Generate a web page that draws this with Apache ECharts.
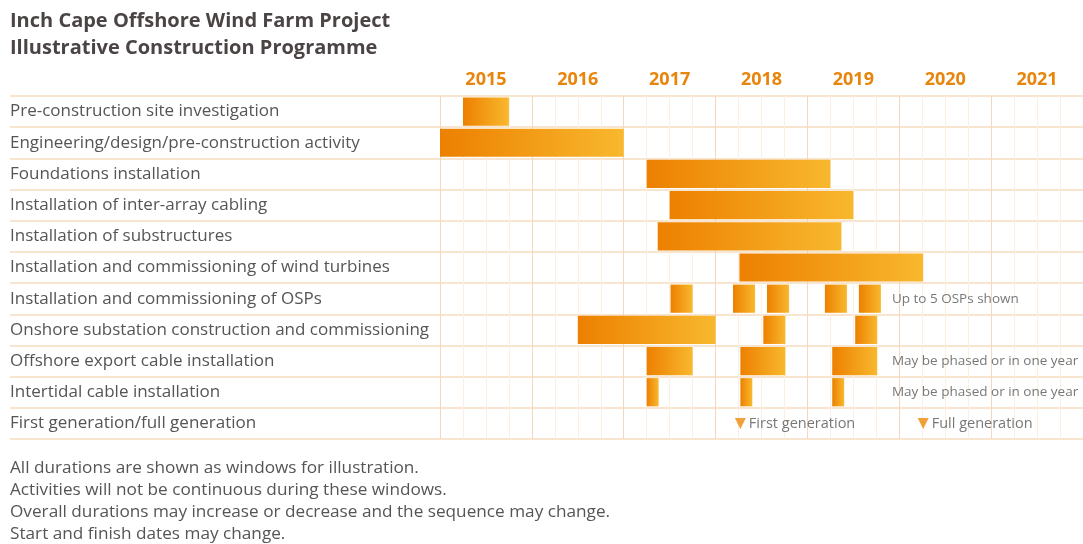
<!DOCTYPE html>
<html>
<head>
<meta charset="utf-8">
<script src="https://cdn.jsdelivr.net/npm/echarts@6/dist/echarts.min.js"></script>
<style>html,body{margin:0;padding:0;background:#fff;}#c{width:1083px;height:544px;}</style>
</head>
<body>
<div id="c"></div>
<script>
// ---- data ----
const activities = [
  'Pre-construction site investigation',
  'Engineering/design/pre-construction activity',
  'Foundations installation',
  'Installation of inter-array cabling',
  'Installation of substructures',
  'Installation and commissioning of wind turbines',
  'Installation and commissioning of OSPs',
  'Onshore substation construction and commissioning',
  'Offshore export cable installation',
  'Intertidal cable installation',
  'First generation/full generation'
];
const years = ['2015', '2016', '2017', '2018', '2019', '2020', '2021'];
// windows: activity index, start (fractional year), end (fractional year)
const windowRow   = [0,       1,      2,       3,      4,       5,       6,       6,       6,       6,       6,       7,      7,      7,       8,       8,       8,       9,       9,       9];
const windowStart = [2015.25, 2015.0, 2017.25, 2017.5, 2017.37, 2018.26, 2017.51, 2018.19, 2018.56, 2019.19, 2019.56, 2016.5, 2018.52, 2019.52, 2017.25, 2018.27, 2019.27, 2017.25, 2018.27, 2019.27];
const windowEnd   = [2015.75, 2017.0, 2019.25, 2019.5, 2019.37, 2020.26, 2017.75, 2018.43, 2018.80, 2019.43, 2019.80, 2018.0, 2018.76, 2019.76, 2017.75, 2018.76, 2019.76, 2017.38, 2018.40, 2019.40];
const milestoneYear  = [2018.27, 2020.26];
const milestoneLabel = ['First generation', 'Full generation'];
const noteRow  = [6, 8, 9];
const noteYear = [2019.92, 2019.92, 2019.92];
const noteText = ['Up to 5 OSPs shown', 'May be phased or in one year', 'May be phased or in one year'];
const footnotes = [
  'All durations are shown as windows for illustration.',
  'Activities will not be continuous during these windows.',
  'Overall durations may increase or decrease and the sequence may change.',
  'Start and finish dates may change.'
];

// ---- chart ----
const FONT = 'Open Sans';
const lineCol = '#f6dcc0';
const chart = echarts.init(document.getElementById('c'));

const bars = windowRow.map((r, i) => [windowStart[i], windowEnd[i], r]);

chart.setOption({
  animation: false,
  backgroundColor: '#ffffff',
  title: [
    {
      text: 'Inch Cape Offshore Wind Farm Project\nIllustrative Construction Programme',
      left: 5, top: 3,
      textStyle: { fontFamily: FONT, fontSize: 20, fontWeight: 'bold', color: '#4b4444', lineHeight: 27 }
    },
    {
      text: footnotes.join('\n'),
      left: 5, top: 452,
      textStyle: { fontFamily: FONT, fontSize: 17.2, fontWeight: 'normal', color: '#555555', lineHeight: 22 }
    }
  ],
  grid: [
    { left: 10, right: 0, top: 96, bottom: 105 },
    { left: 440, right: 0, top: 96, bottom: 105 }
  ],
  xAxis: [
    { gridIndex: 0, type: 'value', min: 0, max: 1, show: false },
    {
      gridIndex: 1, type: 'value', min: 2015, max: 2022, interval: 1,
      axisLabel: { show: false }, axisLine: { show: false }, axisTick: { show: false },
      splitLine: { show: true, lineStyle: { color: '#f5d8bb', width: 1 } },
      minorTick: { show: false, splitNumber: 4 },
      minorSplitLine: { show: true, lineStyle: { color: '#fcefe2', width: 1 } }
    },
    {
      gridIndex: 1, type: 'category', data: years, position: 'top', boundaryGap: true,
      axisLine: { show: false }, axisTick: { show: false },
      axisLabel: { margin: 7, fontFamily: FONT, fontSize: 18, fontWeight: 'bold', color: '#e8850c' }
    }
  ],
  yAxis: [
    {
      gridIndex: 0, type: 'category', data: activities, inverse: true,
      axisLine: { show: false }, axisTick: { show: false },
      axisLabel: { inside: true, margin: 0, fontFamily: FONT, fontSize: 17, color: '#555555' },
      splitLine: { show: true, lineStyle: { color: lineCol, width: 1.5 } }
    },
    {
      gridIndex: 1, type: 'category', data: activities, inverse: true, show: false
    }
  ],
  series: [
    {
      type: 'custom',
      xAxisIndex: 1, yAxisIndex: 1,
      data: bars,
      encode: { x: [0, 1], y: 2 },
      renderItem: function (params, api) {
        const s = api.coord([api.value(0), api.value(2)]);
        const e = api.coord([api.value(1), api.value(2)]);
        const h = api.size([0, 1])[1] - 3;
        return {
          type: 'rect',
          shape: { x: s[0], y: s[1] - h / 2, width: e[0] - s[0], height: h },
          style: {
            fill: new echarts.graphic.LinearGradient(0, 0, 1, 0, [
              { offset: 0, color: '#ed8000' },
              { offset: 1, color: '#f8b82e' }
            ])
          }
        };
      }
    },
    {
      type: 'scatter',
      xAxisIndex: 1, yAxisIndex: 1,
      symbol: 'triangle', symbolRotate: 180, symbolSize: [11, 11],
      itemStyle: { color: '#ee8a08' },
      data: milestoneYear.map((x, i) => ({ value: [x, 10], label: { formatter: milestoneLabel[i] } })),
      label: { show: true, position: 'right', distance: 3, fontFamily: FONT, fontSize: 14.5, color: '#555555' }
    },
    {
      type: 'scatter',
      xAxisIndex: 1, yAxisIndex: 1,
      symbolSize: 0,
      data: noteRow.map((r, i) => ({ value: [noteYear[i], r], label: { formatter: noteText[i] } })),
      label: { show: true, position: 'right', distance: 0, fontFamily: FONT, fontSize: 13.5, color: '#555555' }
    }
  ]
});
</script>
</body>
</html>
